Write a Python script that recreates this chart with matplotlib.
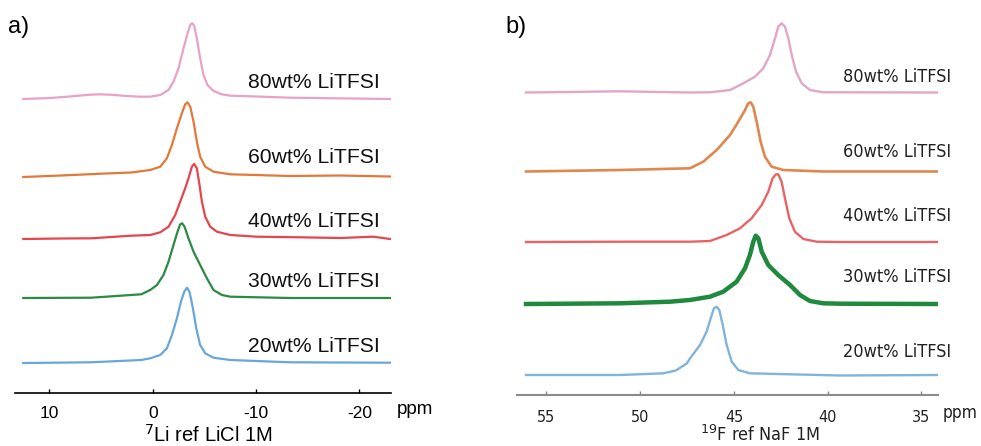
import matplotlib.pyplot as plt

plt.rcParams['font.family'] = ['Liberation Sans', 'DejaVu Sans']

labels = ['80wt% LiTFSI', '60wt% LiTFSI', '40wt% LiTFSI', '30wt% LiTFSI', '20wt% LiTFSI']

# 7Li spectra (ppm, intensity)
li_ppm_80 = [12.52, 9.91, 7.50, 6.04, 5.08, 3.92, 2.56, 1.21, 0.24, -0.73, -1.53, -2.01, -2.50, -2.98,
             -3.37, -3.63, -3.82, -4.01, -4.27, -4.59, -4.91, -5.30, -5.88, -6.69, -7.50, -9.43,
             -13.30, -22.97]
li_int_80 = [0, 1, 3, 4.3, 4.7, 4.2, 3, 2.3, 2.3, 4, 9, 17.3, 30.7, 50.7, 65.7, 74, 75.7, 73.3, 60.7,
             40.7, 24, 14, 8, 4.7, 3.3, 2.7, 1.3, 0]
li_ppm_60 = [12.52, 8.85, 4.98, 2.08, 0.24, -0.73, -1.37, -1.86, -2.34, -2.82, -3.14, -3.37, -3.63, -3.95,
             -4.27, -4.59, -5.08, -5.88, -7.50, -13.30, -18.13, -22.97]
li_int_60 = [0, 1.5, 3.3, 4.5, 7, 10.3, 18.7, 32, 48.7, 63.7, 72.7, 74.7, 70.3, 55.3, 35.3, 20.3, 10.3,
             5.3, 2.7, 1, 1.5, 0.5]
li_ppm_40 = [12.52, 8.85, 5.95, 2.08, 0.24, -0.73, -1.53, -2.18, -2.66, -3.14, -3.46, -3.79, -4.01, -4.27,
             -4.53, -4.76, -5.08, -5.56, -6.21, -7.50, -10.08, -14.26, -18.13, -21.32, -22.97]
li_int_40 = [0, 0.5, 0.7, 3.3, 4, 6.7, 12.3, 24, 37.3, 50.7, 60.7, 72.3, 75, 70.7, 54, 37.3, 22.3, 12.3,
             7.3, 4, 2.3, 1.7, 1, 2.3, 0]
li_ppm_30 = [12.52, 5.95, 1.11, 0.24, -0.41, -1.04, -1.53, -2.01, -2.40, -2.66, -2.85, -3.08, -3.46,
             -3.95, -4.59, -5.24, -5.88, -6.69, -7.50, -13.30, -22.97]
li_int_30 = [0, 0.3, 3.7, 8, 13, 23, 36.3, 53, 66.3, 73.7, 74.7, 71.3, 59.7, 46.3, 33, 19.7, 8, 3, 1.3,
             0, 0]
li_ppm_20 = [12.52, 5.95, 1.11, 0.24, -0.73, -1.37, -1.86, -2.34, -2.73, -3.05, -3.31, -3.56, -3.89,
             -4.21, -4.59, -5.08, -5.88, -7.50, -13.30, -22.97]
li_int_20 = [0, 0.7, 3, 4.7, 8, 14.7, 28, 44.7, 61.3, 71.3, 75.3, 71.3, 54.7, 34.7, 18, 9.7, 5.3, 3,
             0.7, 0.3]

# 19F spectra
f_ppm_80 = [56.09, 54.28, 52.3, 51.08, 49.9, 47.35, 46.28, 45.21, 44.50, 43.88, 43.44, 43.08, 42.81,
            42.64, 42.46, 42.28, 42.10, 41.92, 41.69, 41.39, 40.95, 40.24, 39.35, 34.14]
f_int_80 = [0, 0.4, 0.9, 1.2, 0.8, 0, 0.2, 2.5, 9.2, 15.8, 24.2, 37.5, 54.2, 65.8, 69.2, 65.8, 54.2,
            37.5, 20.8, 9.2, 2.5, 0.2, 0.2, 0]
f_ppm_60 = [56.09, 51.08, 47.35, 46.64, 45.92, 45.21, 44.77, 44.41, 44.24, 44.11, 43.97, 43.79, 43.58,
            43.35, 42.99, 42.37, 40.24, 34.14]
f_int_60 = [0, 1.5, 3.2, 9.8, 21.5, 36.5, 49.8, 61.5, 68.2, 69.2, 64.8, 49.8, 29.8, 14.8, 4.8, 1.5, 0, 0]
f_ppm_40 = [56.09, 51.08, 47.35, 46.28, 45.39, 44.68, 44.06, 43.52, 43.17, 42.94, 42.76, 42.64, 42.46,
            42.28, 42.05, 41.75, 41.30, 40.59, 39.35, 34.14]
f_int_40 = [0, 0.3, 0.3, 1, 7, 13.7, 23.7, 37, 50.3, 63.7, 67.7, 67.7, 60.3, 43.7, 23.7, 10.3, 3, 0.3,
            0, 0]
f_ppm_30 = [56.09, 51.08, 48.41, 47.35, 46.28, 45.57, 44.86, 44.41, 44.15, 43.97, 43.84, 43.70, 43.52,
            43.17, 42.64, 42.01, 41.48, 40.95, 40.24, 39.35, 34.14]
f_int_30 = [0, 0.7, 2.3, 4, 7.3, 12.3, 22.3, 35.7, 49, 62.3, 68.3, 65.7, 52.3, 39, 29, 19, 9, 3, 0.7,
            0.3, 0]
f_ppm_20 = [56.09, 51.08, 48.77, 48.10, 47.52, 47.35, 46.81, 46.46, 46.24, 46.07, 45.92, 45.78, 45.60,
            45.39, 45.12, 44.77, 44.15, 42.01, 39.35, 34.14]
f_int_20 = [0.5, 0.5, 2.2, 5, 12, 17, 30.5, 43.8, 57.2, 67.2, 68.8, 65.5, 50.5, 30.5, 13.8, 5.5, 2.2,
            1.2, 0, 0.5]

li_spectra = [(li_ppm_80, li_int_80), (li_ppm_60, li_int_60), (li_ppm_40, li_int_40),
              (li_ppm_30, li_int_30), (li_ppm_20, li_int_20)]
f_spectra = [(f_ppm_80, f_int_80), (f_ppm_60, f_int_60), (f_ppm_40, f_int_40),
             (f_ppm_30, f_int_30), (f_ppm_20, f_int_20)]

# stacking offsets and label heights
li_offsets = [293.5, 215.5, 153.5, 94.5, 29.5]
li_label_y = [304.8, 229.8, 165.8, 105.8, 40.8]
f_offsets = [302.5, 223.5, 153, 91, 19.5]
f_label_y = [313.3, 238.3, 174.3, 113.3, 38.3]

li_colors = ['#e8a2c6', '#e2783a', '#e5454c', '#2b8a44', '#68a7d8']
f_colors = ['#e3a6c6', '#e0874e', '#e86464', '#1f8a3e', '#82b3d8']
f_widths = [1.7, 1.9, 1.7, 3.2, 1.7]

bfont = dict(family='DejaVu Sans', stretch='condensed')

W, H = 981, 446
fig = plt.figure(figsize=(W / 100, H / 100), dpi=100)

# panel a
ax1 = fig.add_axes([15 / W, 1 - 392.5 / H, 376 / W, 382.5 / H])
for (x, y), off, c in zip(li_spectra, li_offsets, li_colors):
    ax1.plot(x, [v + off for v in y], color=c, lw=1.6, solid_joinstyle='round')
for lab, ly in zip(labels, li_label_y):
    ax1.text(-22.0, ly, lab, ha='right', va='baseline', fontsize=15.2, color='#111111')
ax1.set_xlim(13.32, -23.05)
ax1.set_ylim(0, 382.5)
ax1.set_xticks([10, 0, -10, -20])
ax1.set_xticklabels(['10', '0', '-10', '-20'])
ax1.tick_params(axis='x', direction='in', length=3, width=1, labelsize=12.5, pad=10)
ax1.set_yticks([])
for s in ['top', 'left', 'right']:
    ax1.spines[s].set_visible(False)
ax1.spines['bottom'].set_linewidth(1.2)
fig.text(208 / W, 1 - 435 / H, '$^{7}$Li ref LiCl 1M', fontsize=14.5, ha='center', va='center')
fig.text(397 / W, 1 - 410 / H, 'ppm', fontsize=13.5, ha='left', va='center')
fig.text(8 / W, 1 - 27 / H, 'a)', fontsize=17, va='center', ha='left')

# panel b
ax2 = fig.add_axes([517 / W, 1 - 395 / H, 421 / W, 385 / H])
for (x, y), off, c, lw in zip(f_spectra, f_offsets, f_colors, f_widths):
    ax2.plot(x, [v + off for v in y], color=c, lw=lw, solid_joinstyle='round')
for lab, ly in zip(labels, f_label_y):
    ax2.text(33.44, ly, lab, ha='right', va='baseline', fontsize=13, color='#222222',
             clip_on=False, **bfont)
ax2.set_xlim(56.57, 34.12)
ax2.set_ylim(0, 385)
ax2.set_xticks([55, 50, 45, 40, 35])
ax2.tick_params(axis='x', direction='in', length=3, width=1, color='#888888', labelsize=11.5,
                pad=11, labelcolor='#222222')
for t in ax2.get_xticklabels():
    t.set_family('DejaVu Sans')
    t.set_stretch('condensed')
ax2.set_yticks([])
for s in ['top', 'left', 'right']:
    ax2.spines[s].set_visible(False)
ax2.spines['bottom'].set_color('#8a8a8a')
ax2.spines['bottom'].set_linewidth(1.5)
fig.text(760 / W, 1 - 435 / H, '$^{19}$F ref NaF 1M', fontsize=13, ha='center', va='center',
         color='#222222', **bfont)
fig.text(943 / W, 1 - 413 / H, 'ppm', fontsize=12.5, ha='left', va='center', color='#222222',
         **bfont)
fig.text(505 / W, 1 - 27 / H, 'b)', fontsize=17, va='center', ha='left')

fig.savefig('out.png', dpi=100)
